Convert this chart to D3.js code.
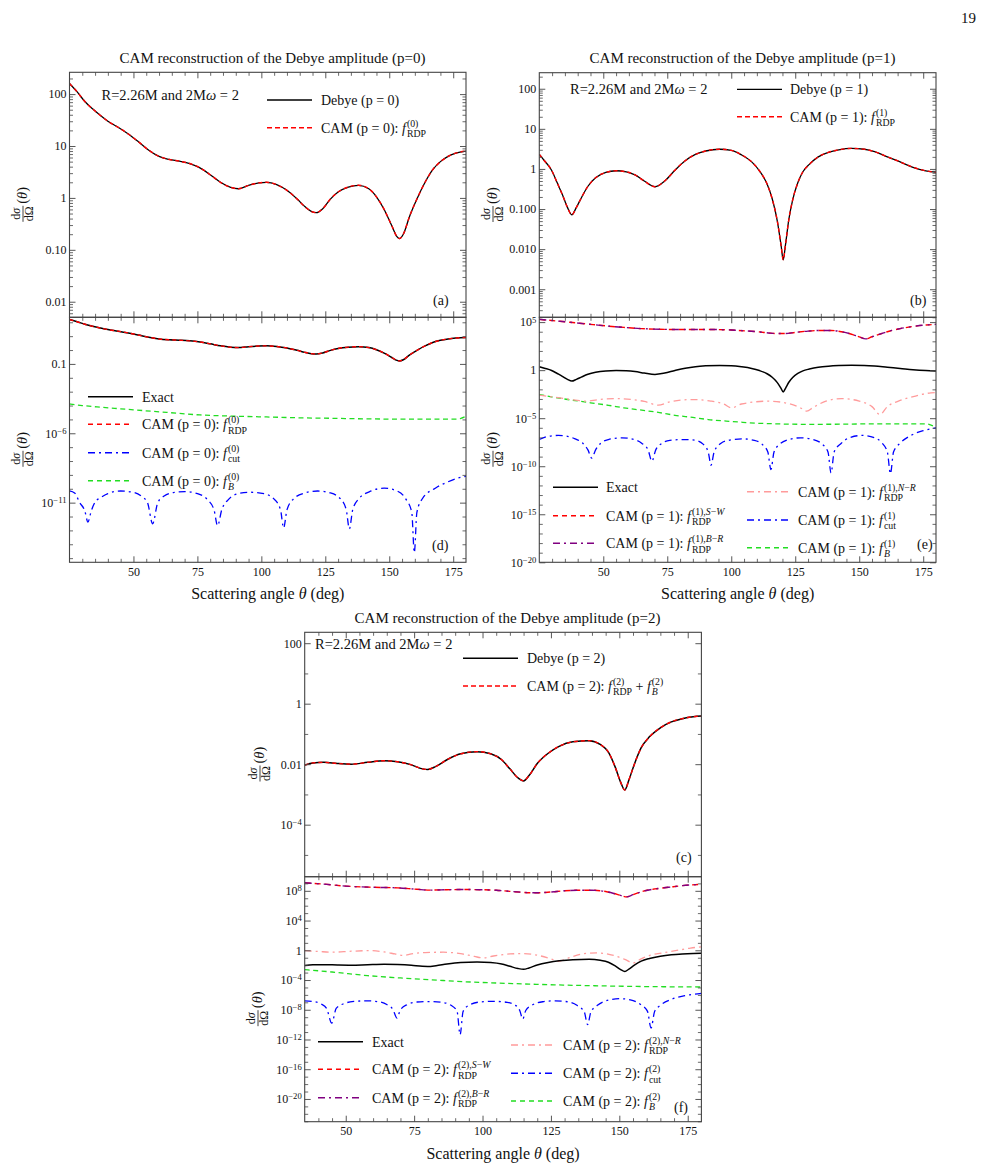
<!DOCTYPE html>
<html><head><meta charset="utf-8">
<script src="https://cdn.jsdelivr.net/npm/d3@7"></script>
<style>
body{margin:0;background:#fff}
svg text{font-family:"Liberation Serif","Times New Roman",serif;white-space:pre}
</style></head><body>
<svg id="c" width="988" height="1170"></svg>
<script>
// ---------------- DATA (theta in deg, dσ/dΩ values) ----------------
const debyeP0 = [[25,160],[28,110],[31,72],[34,52],[37,39],[40,30],[44,23],[48,17],[52,12],[56,8.3],[60,6.3],[64,5.5],[68,5.1],[72,4.6],[76,3.8],[80,2.8],[84,2.0],[88,1.6],[91,1.5],[95,1.75],[99,1.95],[102,2.0],[106,1.8],[110,1.4],[114,0.95],[117,0.68],[119.5,0.55],[121.5,0.52],[124,0.62],[127,0.95],[130,1.3],[134,1.62],[138,1.75],[142,1.5],[145,1.05],[148,0.6],[151,0.29],[153,0.18],[154,0.165],[155.5,0.2],[158,0.45],[161,1.0],[164,2.0],[167,3.5],[170,5.0],[173,6.3],[176,7.3],[180,8.0]];
const camP0RDP = debyeP0;
const camP0B = [[25,1.3e-4],[30,1.0e-4],[37,7.6e-5],[45,5.8e-5],[50,4.9e-5],[63,3.2e-5],[76,2.1e-5],[90,1.7e-5],[102,1.5e-5],[115,1.3e-5],[128,1.2e-5],[140,1.1e-5],[154,1.05e-5],[165,1.05e-5],[172,1.05e-5],[176,1.05e-5],[178,1.2e-5],[180,1.7e-5]];
const camP0Cut = [[25,7e-11],[27,5e-11],[29,1.0e-11],[31,2.5e-12],[32.2,4e-13],[33.5,2.5e-12],[35,1.1e-11],[37,2.2e-11],[40,4.5e-11],[45,6.9e-11],[50,5.5e-11],[53,3e-11],[55.5,1.0e-11],[57.5,3e-13],[59.5,1.0e-11],[62,3e-11],[66,5.5e-11],[70,6.3e-11],[75,4.5e-11],[79,1.6e-11],[81.5,3e-12],[82.9,2.2e-13],[84.5,3e-12],[87,1.6e-11],[91,4.5e-11],[96,5.6e-11],[101,4.5e-11],[105,1.8e-11],[107.5,3e-12],[108.7,1.5e-13],[110,3e-12],[112.5,1.8e-11],[117,5e-11],[122,6.9e-11],[127,5e-11],[131,1.8e-11],[133.2,3e-12],[134.4,1.3e-13],[135.7,3e-12],[138,1.8e-11],[143,7e-11],[148,1.1e-10],[153,7e-11],[156.5,1.8e-11],[158.8,2e-12],[159.8,2.5e-15],[160.8,2e-12],[163,2e-11],[168,1.1e-10],[173,3.2e-10],[177,6e-10],[180,8e-10]];

const debyeP1 = [[25,2.3],[27,1.6],[29.8,0.93],[32,0.45],[34,0.23],[36,0.11],[37.7,0.072],[39.5,0.11],[41.6,0.2],[44,0.37],[47,0.6],[51,0.82],[55,0.9],[59,0.85],[62.4,0.71],[66,0.5],[70.2,0.36],[74,0.5],[78,0.93],[82,1.6],[86,2.3],[90,2.8],[95.5,3.1],[100,2.9],[104,2.25],[108,1.5],[111,0.9],[114,0.42],[116,0.18],[118,0.05],[119.5,0.012],[120.3,0.0054],[121.2,0.013],[122.5,0.055],[124,0.17],[126,0.45],[128,0.85],[130.5,1.3],[134,2.0],[138,2.6],[142,3.0],[147,3.25],[152,3.1],[156,2.7],[161,2.0],[166,1.5],[171,1.1],[176,0.9],[180,0.83]];
const camP1RDP = debyeP1;
const camP1SW = [[25,1.9e5],[32,1.3e5],[39,8.5e4],[46,5.5e4],[52,3.8e4],[58,2.8e4],[65,2.1e4],[72,1.8e4],[80,1.7e4],[91,1.7e4],[100,1.5e4],[106,1.2e4],[111,9.5e3],[115,7.2e3],[118,6.5e3],[121,6.5e3],[125,8.5e3],[130,1.15e4],[135,1.35e4],[139,1.35e4],[143,1e4],[147,5.5e3],[150,2.9e3],[152.6,1.8e3],[155,3e3],[158.4,6e3],[162,1.2e4],[166,2.1e4],[171,3.5e4],[176,5e4],[180,5.8e4]];
const camP1BR = camP1SW;
const camP1NR = [[25,2.5e-3],[33,1.3e-3],[40,7e-4],[43,6e-4],[48,8.5e-4],[54.6,1.1e-3],[61,9e-4],[66,5.5e-4],[71.5,2.3e-4],[76,5e-4],[84.5,8.7e-4],[92,6e-4],[97,3e-4],[100.2,1.2e-4],[104,3e-4],[114.5,5.9e-4],[122,3.5e-4],[127,1.2e-4],[129.5,5.4e-5],[132,1.3e-4],[137,6e-4],[143.1,1.1e-3],[150,6e-4],[155,1.6e-4],[158.1,2.4e-5],[161,1.6e-4],[166,7e-4],[172,2e-3],[178,4.3e-3],[180,4.5e-3]];
const camP1B = [[25,2.9e-3],[32,1.3e-3],[39,6.8e-4],[45,4e-4],[52,2.2e-4],[58,1.2e-4],[65,6.8e-5],[72,3.8e-5],[78,2e-5],[85,1.2e-5],[91,7.2e-6],[98,5e-6],[104,3.8e-6],[110,3e-6],[117,2.6e-6],[130,2.3e-6],[145,2.4e-6],[156,2.6e-6],[168,2.6e-6],[176,2.6e-6],[180,1.1e-6]];
const camP1Cut = [[25,6e-8],[28,1.2e-7],[32.4,1.6e-7],[36,1.3e-7],[39,7e-8],[42,2.5e-8],[44,5e-9],[45.5,7e-10],[47,5e-9],[49,2.5e-8],[52,6e-8],[57.3,9e-8],[62,6e-8],[65,2.5e-8],[67.5,5e-9],[69,3.3e-10],[70.5,5e-9],[73,2.5e-8],[76,5e-8],[81.4,6e-8],[86,5e-8],[89,2e-8],[91,3e-9],[92.1,1.3e-10],[93.3,3e-9],[96,2.5e-8],[99,5e-8],[104.2,7e-8],[109,5e-8],[112,2e-8],[114.3,3e-9],[115.5,4.5e-11],[116.7,3e-9],[119,2e-8],[122,5.5e-8],[127,9e-8],[132,6e-8],[135.5,2e-8],[137.8,3e-9],[139,2e-11],[140.2,3e-9],[143,2.5e-8],[146,9e-8],[151.1,1.6e-7],[156,9e-8],[159,2.5e-8],[161,3e-9],[162.2,1.7e-11],[163.4,3e-9],[166,2.5e-8],[170,1.5e-7],[175,5e-7],[180,1e-6]];

const debyeP2 = [[35,9.3e-3],[38,1.1e-2],[42,1.15e-2],[47,1.05e-2],[52,1.0e-2],[58,1.15e-2],[64,1.3e-2],[69,1.2e-2],[74,9.5e-3],[78,7e-3],[80,6.7e-3],[83,8.5e-3],[87,1.4e-2],[92,2.2e-2],[98,2.6e-2],[103,2.2e-2],[107,1.4e-2],[110,7e-3],[113,3.5e-3],[115,2.8e-3],[117,4.2e-3],[120,1.05e-2],[124,2.3e-2],[128,3.9e-2],[133,5.5e-2],[139,6.0e-2],[143,4.5e-2],[146,2.5e-2],[148.5,8e-3],[150.5,2.5e-3],[152,1.4e-3],[153.5,3e-3],[155.5,1e-2],[158,3.5e-2],[161,8e-2],[165,0.16],[169,0.25],[173,0.32],[177,0.37],[180,0.39]];
const camP2RDPB = debyeP2;
const camP2SW = [[35,1.2e9],[42,8e8],[50,4.3e8],[60,3e8],[69,2.5e8],[76,1.6e8],[81,1.25e8],[87,1.4e8],[93,1.5e8],[100,1.4e8],[105,1.2e8],[110,8.5e7],[114,6.6e7],[118,5.4e7],[121,5.5e7],[125,7e7],[130,1e8],[135,1.2e8],[140,1.2e8],[145,8e7],[148,4.4e7],[150.5,2.4e7],[152.7,1.55e7],[155,3e7],[158.8,9e7],[163,1.8e8],[168,3e8],[173,5e8],[180,7.5e8]];
const camP2BR = camP2SW;
const camP2NR = [[35,0.9],[40,0.7],[45,0.55],[52,0.75],[58.9,0.9],[64,0.6],[68,0.32],[71,0.2],[74,0.32],[79,0.5],[85.6,0.55],[92,0.35],[97,0.15],[100.3,0.093],[104,0.17],[110,0.32],[114.9,0.36],[120,0.22],[125,0.07],[127.7,0.033],[131,0.08],[136,0.3],[141.7,0.45],[147,0.25],[152,0.06],[155.1,0.02],[158,0.07],[162,0.25],[166,0.45],[172,1.1],[176,2.0],[180,2.9]];
const camP2B = [[35,2.5e-3],[45,1.2e-3],[58,3.9e-4],[70,1.9e-4],[81,1.1e-4],[93,6e-5],[105,4e-5],[117,2.8e-5],[129.5,2.1e-5],[141,1.7e-5],[154,1.4e-5],[166,1.25e-5],[180,1.15e-5]];
const camP2Cut = [[35,1.6e-7],[38,1.3e-7],[41,6e-8],[43,1.5e-8],[44.9,1.6e-10],[46.5,1.5e-8],[49,6e-8],[53,1.3e-7],[57.7,1.6e-7],[62,1.2e-7],[65,5e-8],[67.3,1e-8],[68.7,7.8e-10],[70,1e-8],[72.5,5e-8],[76,1.1e-7],[80.8,1.25e-7],[85,1e-7],[88.5,4e-8],[90.7,6e-9],[91.8,4.4e-12],[92.9,6e-9],[95,4e-8],[99,1.1e-7],[104,1.35e-7],[109,1e-7],[112,4e-8],[113.6,8e-9],[114.7,5.6e-10],[115.8,8e-9],[118,4e-8],[122,1.2e-7],[126.5,1.6e-7],[131,1.2e-7],[134.5,4e-8],[137.2,5e-9],[138.4,1e-10],[139.6,5e-9],[142,4e-8],[146,2e-7],[150.2,3.1e-7],[154,2.2e-7],[157.5,6e-8],[160.3,6e-9],[161.6,3.5e-11],[162.9,6e-9],[165,4e-8],[169,2.5e-7],[174,8e-7],[180,1.6e-6]];

// tick labels
const xTickLabels = [50,75,100,125,150,175];
const titles = ["CAM reconstruction of the Debye amplitude (p=0)","CAM reconstruction of the Debye amplitude (p=1)","CAM reconstruction of the Debye amplitude (p=2)"];

// ---------------- STYLES ----------------
const C = {black:"#000", red:"#ff0000", blue:"#0000ff", green:"#22dd22", purple:"#800080", pink:"#ff9b9b"};
const DASH = "5,3.5", DASHDOT = "7,4,2,4";

const svg = d3.select("#c");
const defs = svg.append("defs");

function addRuns(g, x, y, runs, fs, anchor) {
  const t = g.append("text").attr("x", x).attr("y", y).attr("font-size", fs).attr("fill","#111");
  if (anchor) t.attr("text-anchor", anchor);
  runs.forEach(r => t.append("tspan").attr("font-style", r.i ? "italic" : null).text(r.t));
  return t;
}
function rich(g, x, y, segs, fs) {
  let cx = x;
  segs.forEach(s => {
    if (s.sup || s.sub) {
      let w = 0;
      if (s.sup) { const t = addRuns(g, cx + 1, y - fs*0.42, s.sup, fs*0.7); w = Math.max(w, t.node().getComputedTextLength()); }
      if (s.sub) { const t = addRuns(g, cx + 1, y + fs*0.3, s.sub, fs*0.7); w = Math.max(w, t.node().getComputedTextLength()); }
      cx += w + 1;
    } else {
      const t = addRuns(g, cx, y, [s], fs);
      cx += t.node().getComputedTextLength();
    }
  });
}

function fmtPow(sel, k, plainSet) {
  sel.text(null);
  if (plainSet[k] !== undefined) { sel.text(plainSet[k]); return; }
  sel.append("tspan").text("10");
  sel.append("tspan").attr("dy","-0.45em").attr("font-size","0.72em").text(k < 0 ? "\u2212" + (-k) : String(k));
}

function drawPanel(p) {
  const g = svg.append("g");
  const x = d3.scaleLinear().domain(p.xd).range([p.x0, p.x1]);
  const y = d3.scaleLog().domain([Math.pow(10,p.yd[0]), Math.pow(10,p.yd[1])]).range([p.y1, p.y0]);
  const cid = "clip" + p.id;
  defs.append("clipPath").attr("id", cid).append("rect")
    .attr("x", p.x0).attr("y", p.y0).attr("width", p.x1 - p.x0).attr("height", p.y1 - p.y0);
  const line = d3.line().x(d => x(d[0])).y(d => y(d[1])).curve(d3.curveMonotoneX);
  const sg = g.append("g").attr("clip-path", `url(#${cid})`);
  p.series.forEach(s => sg.append("path").attr("d", line(s.data)).attr("fill","none")
    .attr("stroke", s.color).attr("stroke-width", s.w).attr("stroke-dasharray", s.dash || null));

  const yMaj = p.yMajor.map(k => Math.pow(10,k));
  const yMin = [];
  const lo = Math.floor(p.yd[0]), hi = Math.ceil(p.yd[1]);
  for (let k = lo; k <= hi; k++) {
    if (p.subMinor) { for (let m = 2; m <= 9; m++) yMin.push(m*Math.pow(10,k)); }
    if (!p.yMajor.includes(k)) yMin.push(Math.pow(10,k));
  }
  const yMinIn = yMin.filter(v => { const l = Math.log10(v); return l > p.yd[0] && l < p.yd[1]; });
  const xMaj = [25,50,75,100,125,150,175].filter(v => v > p.xd[0] && v < p.xd[1]);
  const xMin = d3.range(p.xd[0], p.xd[1] + 0.1, 5).filter(v => v % 25 !== 0 && v > p.xd[0] && v < p.xd[1]);

  const axes = [
    [d3.axisLeft, p.x0, 0, y, true], [d3.axisRight, p.x1, 0, y, false],
    [d3.axisBottom, 0, p.y1, x, p.xLabels], [d3.axisTop, 0, p.y0, x, false]
  ];
  axes.forEach(([fn, tx, ty, sc, lab], i) => {
    const isY = i < 2;
    const maj = isY ? yMaj : xMaj, mn = isY ? yMinIn : xMin;
    const ga = g.append("g").attr("transform", `translate(${tx},${ty})`)
      .call(fn(sc).tickValues(maj).tickSize(-6).tickPadding(isY ? 3 : 5).tickFormat(lab ? null : () => ""));
    ga.select(".domain").remove();
    ga.attr("font-size", 12);
    ga.selectAll(".tick line").attr("stroke","#444").attr("stroke-width",0.9);
    ga.selectAll(".tick text").attr("fill","#111");
    if (isY && lab) ga.selectAll(".tick text").each(function(d){ fmtPow(d3.select(this), Math.round(Math.log10(d)), p.plain); });
    if (!isY && lab) ga.selectAll(".tick text").filter(d => !xTickLabels.includes(d)).remove();
    const gm = g.append("g").attr("transform", `translate(${tx},${ty})`)
      .call(fn(sc).tickValues(mn).tickSize(-3.5).tickFormat(() => ""));
    gm.select(".domain").remove();
    gm.selectAll(".tick line").attr("stroke","#444").attr("stroke-width",0.8);
  });
  g.append("rect").attr("x", p.x0).attr("y", p.y0).attr("width", p.x1 - p.x0).attr("height", p.y1 - p.y0)
    .attr("fill","none").attr("stroke","#444").attr("stroke-width",1.1);

  // y-axis label
  const cy = (p.y0 + p.y1) / 2 + 4;
  const gl = svg.append("g").attr("transform", `translate(${p.ylx},${cy}) rotate(-90)`);
  const num = gl.append("text").attr("x",-15).attr("y",-2.5).attr("text-anchor","middle").attr("font-size",12).attr("fill","#111");
  num.append("tspan").text("d"); num.append("tspan").attr("font-style","italic").text("σ");
  gl.append("line").attr("x1",-23).attr("x2",-7).attr("y1",1).attr("y2",1).attr("stroke","#111").attr("stroke-width",0.8);
  gl.append("text").attr("x",-15).attr("y",10.5).attr("text-anchor","middle").attr("font-size",12).attr("fill","#111").text("dΩ");
  const tt = gl.append("text").attr("x",-5).attr("y",5).attr("font-size",14.5).attr("fill","#111");
  tt.append("tspan").text("(");
  tt.append("tspan").attr("font-style","italic").text("θ");
  tt.append("tspan").text(")");

  if (p.xLabels) {
    const t = svg.append("text").attr("x", (p.x0 + p.x1)/2).attr("y", p.y1 + 37).attr("text-anchor","middle").attr("font-size",16).attr("fill","#111");
    t.append("tspan").text("Scattering angle ");
    t.append("tspan").attr("font-style","italic").text("θ");
    t.append("tspan").text(" (deg)");
  }
  svg.append("text").attr("x", p.tagX).attr("y", p.tagY).attr("font-size",14).attr("fill","#111").text(p.tag);
  return {x, y, g};
}

function legendLine(x1, x2, yy, color, dash, w) {
  svg.append("line").attr("x1",x1).attr("x2",x2).attr("y1",yy).attr("y2",yy)
    .attr("stroke",color).attr("stroke-width",w||1.5).attr("stroke-dasharray",dash||null);
}
function camLabel(p, sup, sub) {
  return [{t:`CAM (p = ${p}): `},{t:"f",i:1},{sup, sub}];
}
const R = t => ({t}), I = t => ({t, i:1});

// ---------------- PANELS ----------------
const pA = {id:"a", x0:69.5, x1:466, y0:72.3, y1:317.3, xd:[25,180], yd:[-2.3,2.42], yMajor:[-2,-1,0,1,2], subMinor:true,
  plain:{"-2":"0.01","-1":"0.10","0":"1","1":"10","2":"100"}, ylx:22, tag:"(a)", tagX:433, tagY:305,
  series:[{data:debyeP0,color:C.black,w:1.3},{data:camP0RDP,color:C.red,w:1.4,dash:"4,3"}]};
const pD = {id:"d", x0:69.5, x1:466, y0:317.3, y1:562.3, xd:[25,180], yd:[-15.3,2.36], yMajor:[-1,-6,-11], subMinor:false,
  plain:{"-1":"0.1"}, ylx:22, xLabels:true, tag:"(d)", tagX:432, tagY:550,
  series:[{data:camP0Cut,color:C.blue,w:1.3,dash:DASHDOT},{data:camP0B,color:C.green,w:1.3,dash:DASH},
          {data:debyeP0,color:C.black,w:1.5},{data:camP0RDP,color:C.red,w:1.4,dash:"4,3"}]};
const pB = {id:"b", x0:539.3, x1:936, y0:72.7, y1:317.3, xd:[25,180], yd:[-3.7,2.4], yMajor:[-3,-2,-1,0,1,2], subMinor:true,
  plain:{"-3":"0.001","-2":"0.010","-1":"0.100","0":"1","1":"10","2":"100"}, ylx:492, tag:"(b)", tagX:910, tagY:305,
  series:[{data:debyeP1,color:C.black,w:1.3},{data:camP1RDP,color:C.red,w:1.4,dash:"4,3"}]};
const pE = {id:"e", x0:539.3, x1:936, y0:317.3, y1:562.3, xd:[25,180], yd:[-20,5.5], yMajor:[5,0,-5,-10,-15,-20], subMinor:false,
  plain:{"0":"1"}, ylx:492, xLabels:true, tag:"(e)", tagX:917, tagY:549,
  series:[{data:camP1Cut,color:C.blue,w:1.3,dash:DASHDOT},{data:camP1B,color:C.green,w:1.3,dash:DASH},
          {data:camP1NR,color:C.pink,w:1.3,dash:DASHDOT},{data:debyeP1,color:C.black,w:1.5},
          {data:camP1SW,color:C.red,w:1.4,dash:"6,4"},{data:camP1BR,color:C.purple,w:1.4,dash:"7,5,2,5"}]};
const pC = {id:"c", x0:304.7, x1:701.4, y0:632.3, y1:876.7, xd:[35,180], yd:[-5.72,2.36], yMajor:[2,0,-2,-4], subMinor:false,
  plain:{"2":"100","0":"1","-2":"0.01"}, ylx:259, tag:"(c)", tagX:676, tagY:862,
  series:[{data:debyeP2,color:C.black,w:1.5},{data:camP2RDPB,color:C.red,w:1.4,dash:"4,3"}]};
const pF = {id:"f", x0:304.7, x1:701.4, y0:876.7, y1:1121.7, xd:[35,180], yd:[-23.06,9.9], yMajor:[8,4,0,-4,-8,-12,-16,-20], subMinor:false,
  plain:{"0":"1"}, ylx:257, xLabels:true, tag:"(f)", tagX:674, tagY:1112,
  series:[{data:camP2Cut,color:C.blue,w:1.3,dash:DASHDOT},{data:camP2B,color:C.green,w:1.3,dash:DASH},
          {data:camP2NR,color:C.pink,w:1.3,dash:DASHDOT},{data:debyeP2,color:C.black,w:1.5},
          {data:camP2SW,color:C.red,w:1.4,dash:"6,4"},{data:camP2BR,color:C.purple,w:1.4,dash:"7,5,2,5"}]};

[pA,pD,pB,pE,pC,pF].forEach(drawPanel);

// titles
[[titles[0],272.5,62.5],[titles[1],742.5,62.5],[titles[2],507.5,622.5]].forEach(([t,x,y]) =>
  svg.append("text").attr("x",x).attr("y",y).attr("text-anchor","middle").attr("font-size",15).attr("fill","#111").text(t));
svg.append("text").attr("x",976).attr("y",23).attr("text-anchor","end").attr("font-size",15).attr("fill","#111").text("19");

// parameter labels
const paramRuns = [R("R=2.26M and 2M"), I("ω"), R(" = 2")];
[[101.5,99.5],[570,94],[315,648.5]].forEach(([x,y]) => addRuns(svg, x, y, paramRuns, 14.5));

// legends (a)
legendLine(267,312,100,C.black,null,1.3);
rich(svg,321,105,[R("Debye (p = 0)")],14);
legendLine(267,312,127.7,C.red,"5,3",1.6);
rich(svg,321,132.5,camLabel(0,[R("(0)")],[R("RDP")]),14);
// legends (b)
legendLine(737,782,89.3,C.black,null,1.3);
rich(svg,790,94.3,[R("Debye (p = 1)")],14);
legendLine(737,782,116.7,C.red,"5,3",1.6);
rich(svg,790,121.5,camLabel(1,[R("(1)")],[R("RDP")]),14);
// legends (c)
legendLine(463,518,658.3,C.black,null,1.5);
rich(svg,527,663.3,[R("Debye (p = 2)")],14);
legendLine(463,518,686,C.red,"5,3",1.6);
rich(svg,527,691,[R("CAM (p = 2): "),I("f"),{sup:[R("(2)")],sub:[R("RDP")]},R(" + "),I("f"),{sup:[R("(2)")],sub:[I("B")]}],14);
// legends (d)
legendLine(88,133,396.7,C.black,null,1.5);
rich(svg,142,401.7,[R("Exact")],14);
legendLine(88,133,424.3,C.red,"5,4",1.4);
rich(svg,142,429.3,camLabel(0,[R("(0)")],[R("RDP")]),14);
legendLine(88,133,452.7,C.blue,DASHDOT,1.4);
rich(svg,142,457.7,camLabel(0,[R("(0)")],[R("cut")]),14);
legendLine(88,133,480.7,C.green,"5,4",1.4);
rich(svg,142,485.7,camLabel(0,[R("(0)")],[I("B")]),14);
// legends (e)
legendLine(553,598,487.3,C.black,null,1.5);
rich(svg,606,492.3,[R("Exact")],14);
legendLine(553,598,515.7,C.red,"5,4",1.4);
rich(svg,606,520.7,camLabel(1,[R("(1),"),I("S"),R("\u2212"),I("W")],[R("RDP")]),14);
legendLine(553,598,543.3,C.purple,"7,4,2,4",1.6);
rich(svg,606,548.3,camLabel(1,[R("(1),"),I("B"),R("\u2212"),I("R")],[R("RDP")]),14);
legendLine(747,788,491.7,C.pink,DASHDOT,1.4);
rich(svg,798,496.7,camLabel(1,[R("(1),"),I("N"),R("\u2212"),I("R")],[R("RDP")]),14);
legendLine(747,788,520,C.blue,DASHDOT,1.4);
rich(svg,798,525,camLabel(1,[R("(1)")],[R("cut")]),14);
legendLine(747,788,547.7,C.green,"5,4",1.4);
rich(svg,798,552.7,camLabel(1,[R("(1)")],[I("B")]),14);
// legends (f)
legendLine(318,363,1041.7,C.black,null,1.5);
rich(svg,372,1046.7,[R("Exact")],14);
legendLine(318,363,1069.3,C.red,"5,4",1.4);
rich(svg,372,1074.3,camLabel(2,[R("(2),"),I("S"),R("\u2212"),I("W")],[R("RDP")]),14);
legendLine(318,363,1097.7,C.purple,"7,4,2,4",1.6);
rich(svg,372,1102.7,camLabel(2,[R("(2),"),I("B"),R("\u2212"),I("R")],[R("RDP")]),14);
legendLine(511,553,1045,C.pink,DASHDOT,1.4);
rich(svg,563,1050,camLabel(2,[R("(2),"),I("N"),R("\u2212"),I("R")],[R("RDP")]),14);
legendLine(511,553,1073.3,C.blue,DASHDOT,1.4);
rich(svg,563,1078.3,camLabel(2,[R("(2)")],[R("cut")]),14);
legendLine(511,553,1101,C.green,"5,4",1.4);
rich(svg,563,1106,camLabel(2,[R("(2)")],[I("B")]),14);
</script></body></html>
